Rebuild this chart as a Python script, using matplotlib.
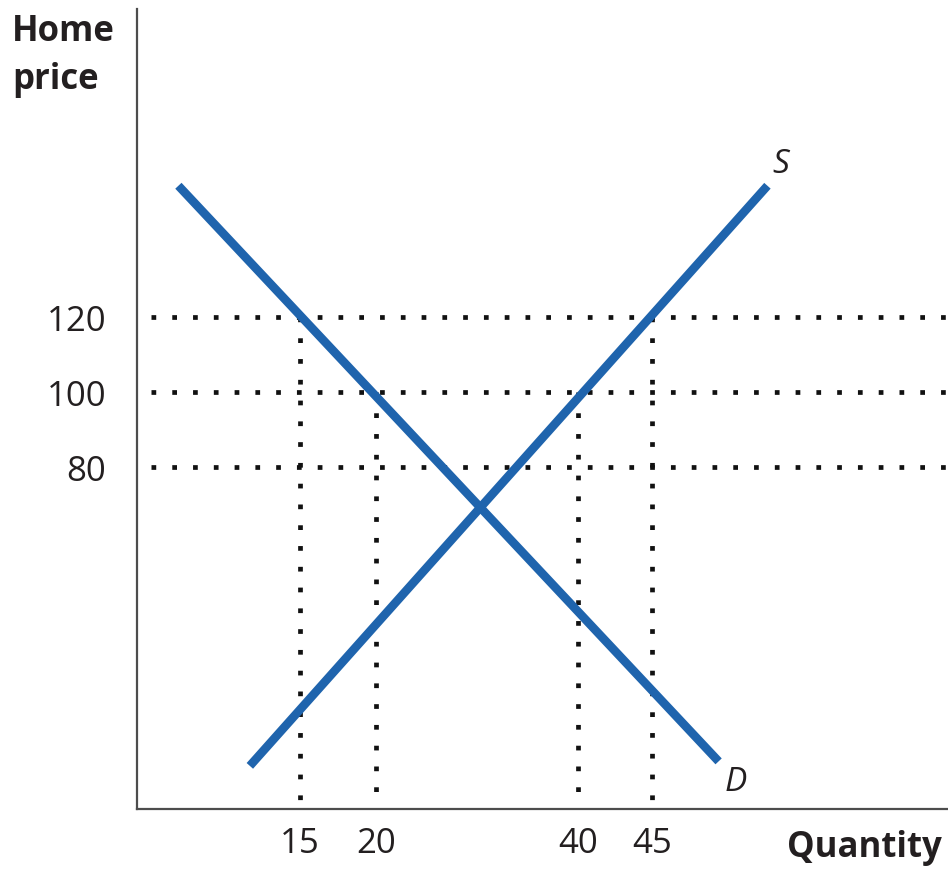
import numpy as np
import matplotlib
matplotlib.use("Agg")
import matplotlib.pyplot as plt

# Market data (prices and quantities on the diagram)
price_levels = [120, 100, 80]
quantity_ticks = [15, 20, 40, 45]
# (quantity, price) pairs where the dotted guides meet the curves
guide_q = [15, 20, 40, 45]
guide_p = [120, 100, 100, 120]

demand_q = [7.0, 49.5]
demand_p = [155.0, 1.5]
supply_q = [11.7, 52.8]
supply_p = [0.3, 155.0]

# The diagram is not drawn to scale: quantity axis uses a piecewise spacing
_q_anchor = np.array([0.0, 15.0, 20.0, 40.0, 45.0, 70.0])
_u_anchor = np.array([72.0, 300.0, 376.0, 578.0, 652.0, 1022.0])


def _fwd(q):
    return np.interp(q, _q_anchor, _u_anchor)


def _inv(u):
    return np.interp(u, _u_anchor, _q_anchor)


plt.rcParams['font.family'] = ['Open Sans', 'DejaVu Sans']
TEXT = '#231f20'
BLUE = '#1f64ad'

fig = plt.figure(figsize=(9.48, 8.70), dpi=100)
ax = fig.add_axes([137 / 948, 60 / 870, 1 - 137 / 948, 800 / 870])
ax.set_xscale('function', functions=(_fwd, _inv))
ax.set_xlim(_inv(137), _inv(948))
ax.set_ylim(120 - 492 / 3.75, 120 + 308 / 3.75)

ymin = ax.get_ylim()[0]
xleft = _inv(151)
xright = ax.get_xlim()[1]

dot_style = dict(color='#111111', lw=3.4, linestyle=(0, (1.0, 3.4)),
                 dash_capstyle='butt', zorder=1)
for p in price_levels:
    ax.plot([xleft, xright], [p, p], **dot_style)
for q, p in zip(guide_q, guide_p):
    ax.plot([q, q], [p, ymin + 1.5], **dot_style)

ax.plot(demand_q, demand_p, color=BLUE, lw=6.2, solid_capstyle='butt', zorder=3)
ax.plot(supply_q, supply_p, color=BLUE, lw=6.2, solid_capstyle='butt', zorder=3)

ax.text(supply_q[1] + 0.3, supply_p[1] + 1.5, 'S', style='italic', fontsize=24,
        color=TEXT, ha='left', va='bottom')
ax.text(demand_q[1] + 0.4, demand_p[1] - 1.0, 'D', style='italic', fontsize=24,
        color=TEXT, ha='left', va='top')

for side in ('top', 'right'):
    ax.spines[side].set_visible(False)
for side in ('left', 'bottom'):
    ax.spines[side].set_color('#4d4d4d')
    ax.spines[side].set_linewidth(1.6)

ax.set_yticks(price_levels)
ax.set_yticklabels([str(v) for v in price_levels])
ax.set_xticks(quantity_ticks)
ax.set_xticklabels([str(v) for v in quantity_ticks])
ax.tick_params(axis='y', length=0, pad=22, labelsize=25, labelcolor=TEXT)
ax.tick_params(axis='x', length=0, pad=12, labelsize=25, labelcolor=TEXT)
ax.minorticks_off()

fig.text(12 / 948, 1 - 14 / 870, 'Home\nprice', fontsize=25, fontweight='bold',
         color=TEXT, ha='left', va='top', linespacing=1.45)
fig.text(942 / 948, 1 - 848 / 870, 'Quantity', fontsize=25, fontweight='bold',
         color=TEXT, ha='right', va='center')

fig.savefig('out.png', dpi=100)
